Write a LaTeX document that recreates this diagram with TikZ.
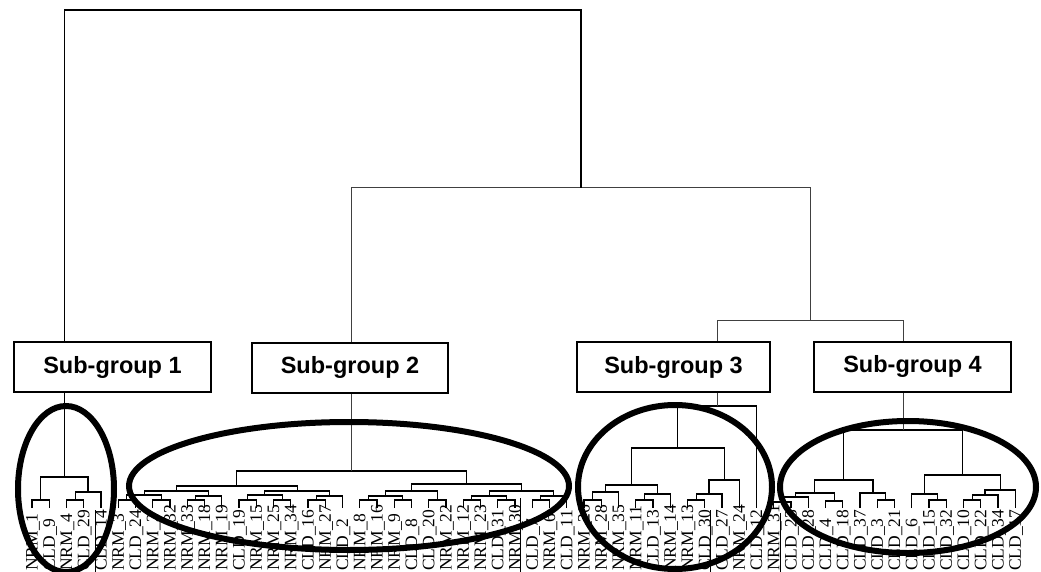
\documentclass[tikz,border=0pt]{standalone}
\usepackage{fontspec}
\newfontfamily\leaffont{Liberation Serif}
\newfontfamily\boxfont{Liberation Sans}

% x positions of clusters are kept in \dx<name> so that merges can find their children
\newcommand\mrg[5][]{%
  \pgfmathsetmacro\mxa{\csname dx#3\endcsname}%
  \pgfmathsetmacro\mxb{\csname dx#4\endcsname}%
  \pgfmathsetmacro\mxm{(\mxa+\mxb)/2}%
  \expandafter\xdef\csname dx#2\endcsname{\mxm}%
  \coordinate (#2) at (\mxm,#5);%
  \draw[dend,#1] (#3) -- (\mxa,#5) -- (\mxb,#5) -- (#4);%
}

\tikzset{
  dend/.style={line width=1.2pt, black, line join=miter},
  topln/.style={line width=1pt, black!75},
  sgbox/.style={draw, line width=2pt, fill=white, inner sep=0pt,
    minimum height=50pt,
    font=\boxfont\bfseries\fontsize{23.5}{24}\selectfont},
  leaflab/.style={rotate=90, anchor=base west, inner sep=0pt,
    font=\leaffont\fontsize{17.5}{17.5}\selectfont},
  ring/.style={line width=6pt, black},
  sep/.style={line width=1pt, black}
}

\begin{document}
\begin{tikzpicture}[x=1pt, y=-1pt]
\useasboundingbox (0,0) rectangle (1041,572);

% leaves and their labels
\foreach \lab [count=\i] in {NRM\_1, CLD\_9, NRM\_4, CLD\_29, CLD\_14,
  NRM\_3, CLD\_24, NRM\_2, NRM\_32, NRM\_33, NRM\_18, NRM\_19, CLD\_19,
  NRM\_15, NRM\_25, NRM\_34, CLD\_16, NRM\_27, CLD\_2, NRM\_8, NRM\_16,
  NRM\_9, CLD\_8, CLD\_20, NRM\_22, NRM\_12, NRM\_23, CLD\_31, NRM\_30,
  CLD\_7, NRM\_6, CLD\_11, NRM\_26, NRM\_28, NRM\_35, NRM\_11, CLD\_13,
  NRM\_14, NRM\_13, CLD\_30, CLD\_27, NRM\_24, CLD\_12, NRM\_31, CLD\_23,
  CLD\_28, CLD\_4, CLD\_18, CLD\_37, CLD\_3, CLD\_21, CLD\_6, CLD\_15,
  CLD\_32, CLD\_10, CLD\_22, CLD\_34, CLD\_17}{%
  \pgfmathsetmacro\xx{32+17.25*(\i-1)}%
  \expandafter\xdef\csname dxL\i\endcsname{\xx}%
  \coordinate (L\i) at (\xx,508);
  \node[leaflab] (T\i) at (\xx+5.6,571) {\lab};
}

% sub-group 1
\mrg{a12}{L1}{L2}{500}
\mrg{a34}{L3}{L4}{500}
\mrg{a345}{a34}{L5}{492}
\mrg{R1}{a12}{a345}{477}

% sub-group 2
\mrg{p1}{L6}{L7}{500}
\mrg{p2}{L8}{L9}{500}
\mrg{p3}{p1}{p2}{495}
\mrg{p4}{L10}{L11}{500}
\mrg{p5}{p4}{L12}{496}
\mrg{pA}{p3}{p5}{491}
\mrg{q1}{L13}{L14}{500}
\mrg{q2}{L15}{L16}{500}
\mrg{q3}{q1}{q2}{495}
\mrg{q4}{L17}{L18}{500}
\mrg{q5}{q4}{L19}{496}
\mrg{qA}{q3}{q5}{491}
\mrg{LL2}{pA}{qA}{486}
\mrg{c1}{L20}{L21}{500}
\mrg{c2}{L22}{L23}{500}
\mrg{c3}{c1}{c2}{496}
\mrg{c4}{L24}{L25}{500}
\mrg{cA}{c3}{c4}{491}
\mrg{d1}{L26}{L27}{500}
\mrg{d2}{L28}{L29}{500}
\mrg{d3}{d1}{d2}{496}
\mrg{d4}{L30}{L31}{500}
\mrg{d5}{d4}{L32}{496}
\mrg{dA}{d3}{d5}{491}
\mrg{RR2}{cA}{dA}{484}
\mrg{R2}{LL2}{RR2}{471}

% sub-group 3
\mrg{s1}{L33}{L34}{500}
\mrg{s2}{s1}{L35}{492}
\mrg{s3}{L36}{L37}{500}
\mrg{s4}{s3}{L38}{494}
\mrg{s5}{s2}{s4}{485}
\mrg{s6}{L39}{L40}{500}
\mrg{s7}{s6}{L41}{494}
\mrg{s8}{s7}{L42}{480}
\mrg{s9}{s5}{s8}{448}
\mrg{R3}{s9}{L43}{406}

% sub-group 4
\mrg{f1}{L44}{L45}{502}
\mrg{f2}{f1}{L46}{497}
\mrg{f3}{L47}{L48}{501}
\mrg{f4}{f2}{f3}{493}
\mrg{f5}{L50}{L51}{500}
\mrg{f6}{L49}{f5}{493}
\mrg{f7}{f4}{f6}{480}
\mrg{g1}{L53}{L54}{500}
\mrg{g2}{L52}{g1}{494}
\mrg{g3}{L55}{L56}{500}
\mrg{g4}{g3}{L57}{495}
\mrg{g5}{g4}{L58}{490}
\mrg{g6}{g2}{g5}{475}
\mrg{R4}{f7}{g6}{430}

% upper levels joining the sub-groups
\mrg[topln]{M34}{R3}{R4}{320}
\mrg[topln]{M234}{R2}{M34}{188}
\mrg[line width=1.6pt]{MT}{R1}{M234}{10}

% short rules running into the label band
\draw[sep] (95,510) -- (95,572);
\draw[sep] (520,498) -- (520,572);
\draw[sep] (710,510) -- (710,572);
\draw[sep] (780,513) -- (780,572);

% sub-group boxes
\node[sgbox, minimum width=197pt] (sg1) at (112.5,367) {Sub-group 1};
\node[sgbox, minimum width=196pt] (sg2) at (350,367.5) {Sub-group 2};
\node[sgbox, minimum width=193pt] (sg3) at (673.5,367) {Sub-group 3};
\node[sgbox, minimum width=197pt] (sg4) at (912.5,366.5) {Sub-group 4};

% rings around the four sub-groups
\draw[ring] (66,489) ellipse [x radius=48pt, y radius=83pt];
\draw[ring] (349,486) ellipse [x radius=220pt, y radius=64pt];
\draw[ring] (675,487) ellipse [x radius=97pt, y radius=82pt];
\draw[ring] (908,487) ellipse [x radius=128pt, y radius=66pt];
\end{tikzpicture}
\end{document}
